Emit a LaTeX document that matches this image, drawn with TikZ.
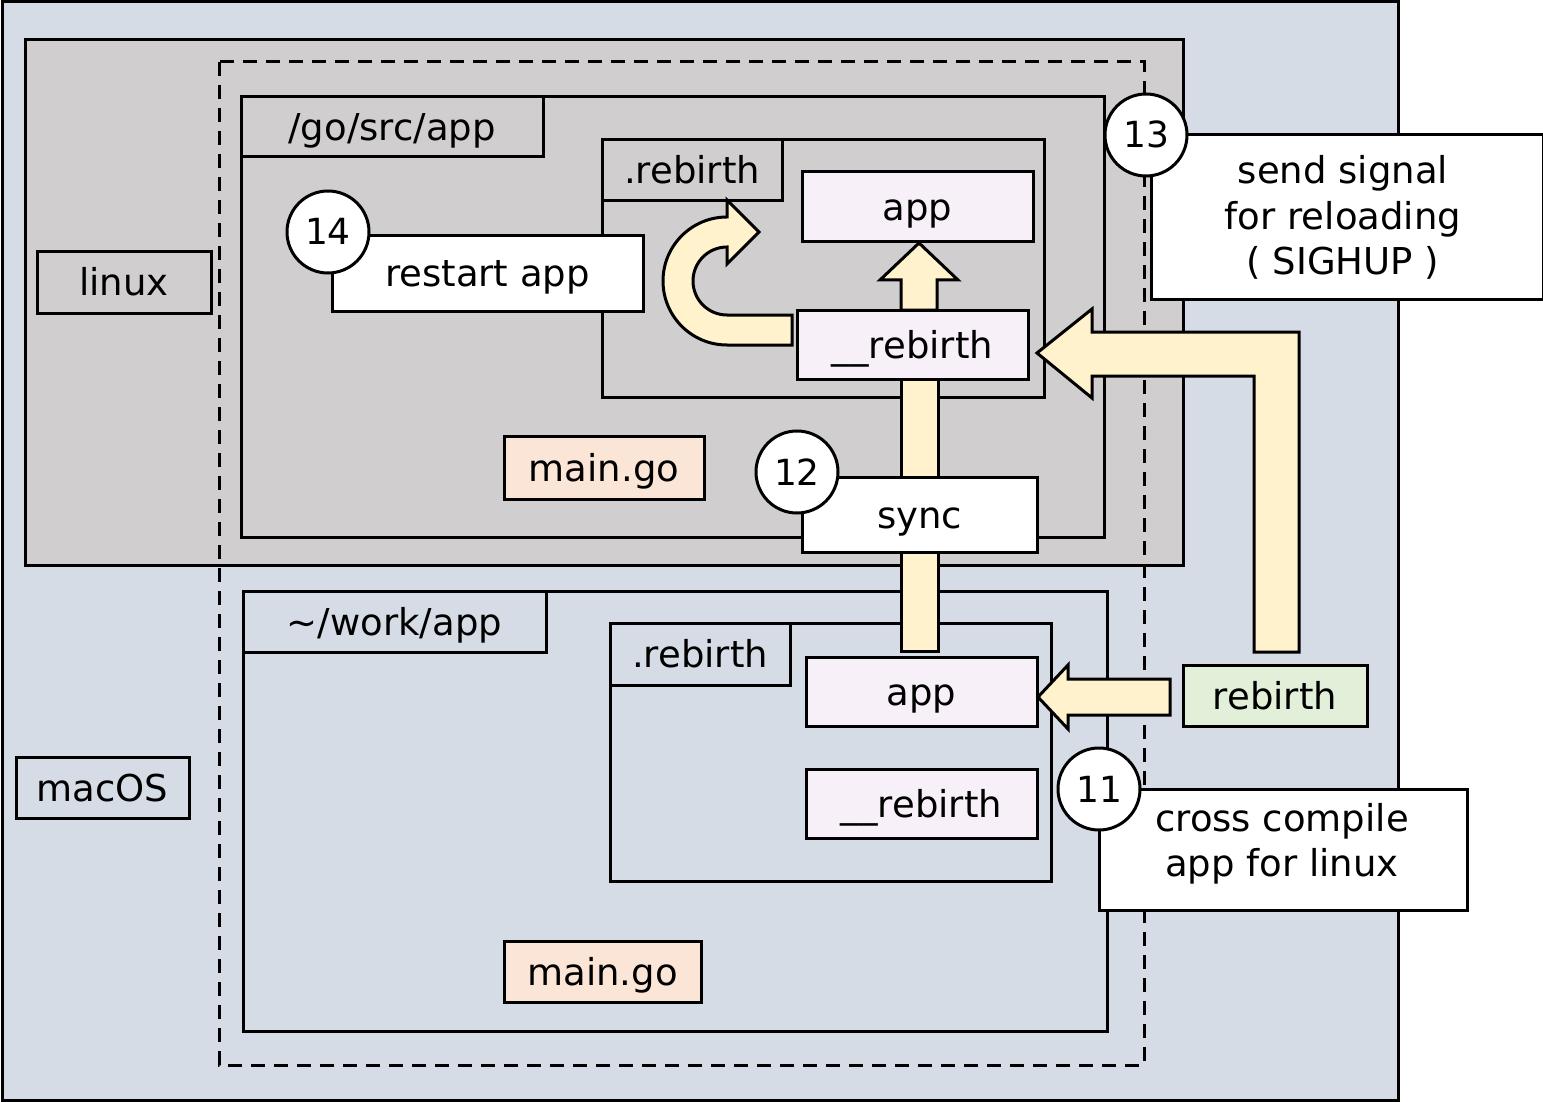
\documentclass[tikz,border=0pt]{standalone}
\usepackage{fontspec}
\setmainfont{DejaVu Sans}
\usetikzlibrary{calc}
\definecolor{macbg}{HTML}{D6DCE5}
\definecolor{linbg}{HTML}{D0CECE}
\definecolor{lav}{HTML}{F7F0F8}
\definecolor{peach}{HTML}{FBE5D6}
\definecolor{grn}{HTML}{E2F0D9}
\definecolor{yel}{HTML}{FFF2CC}
\begin{document}
\begin{tikzpicture}[x=1pt,y=-1pt,line width=3pt,
  bx/.style={draw=black,rectangle,inner sep=0pt,outer sep=0pt,anchor=north west,
    font=\fontsize{37}{45.5}\selectfont,text height=27pt,text depth=0pt},
  txt/.style={inner sep=0pt,outer sep=0pt,align=center,font=\fontsize{37}{45.5}\selectfont},
  stepnum/.style={draw=black,fill=white,circle,inner sep=0pt,outer sep=0pt,minimum size=82pt,
    font=\fontsize{36}{45.5}\selectfont,text height=26pt,text depth=0pt},
  fat/.style={draw=black,fill=yel,line width=3pt,line join=miter},
  dashbox/.style={draw=black,dash pattern=on 14pt off 9pt}]
\useasboundingbox (0,0) rectangle (1543,1102);
% outer environments
\node[bx,fill=macbg,minimum width=1396pt,minimum height=1098pt] (macos) at (2,2) {};
\node[bx,fill=linbg,minimum width=1158pt,minimum height=525pt] (linux) at (25,40) {};
% linux side
\node[bx,fill=linbg,minimum width=863pt,minimum height=440pt] (gosrc) at (241,97) {};
\node[bx,fill=linbg,minimum width=302pt,minimum height=60pt] (gosrctab) at (241,97) {/go/src/app};
\node[bx,fill=linbg,minimum width=442pt,minimum height=257pt] (rebU) at (602,140) {};
\node[bx,fill=linbg,minimum width=180pt,minimum height=61pt] (rebUtab) at (602,140) {.rebirth};
\node[bx,fill=lav,minimum width=231pt,minimum height=70pt] (uapp) at (802,172) {app};
\node[bx,fill=lav,minimum width=231pt,minimum height=69pt] (urb) at (797,310) {\_\_rebirth};
\node[bx,fill=peach,minimum width=200pt,minimum height=63pt] (umain) at (504,436) {main.go};
\node[bx,fill=linbg,minimum width=174pt,minimum height=61pt] (linuxlbl) at (37,252) {linux};
% macOS side
\node[bx,fill=macbg,minimum width=864pt,minimum height=440pt] (work) at (243,591) {};
\node[bx,fill=macbg,minimum width=303pt,minimum height=61pt] (worktab) at (243,591) {\textasciitilde/work/app};
\node[bx,fill=macbg,minimum width=441pt,minimum height=258pt] (rebL) at (610,623) {};
\node[bx,fill=macbg,minimum width=180pt,minimum height=62pt] (rebLtab) at (610,623) {.rebirth};
\node[bx,fill=lav,minimum width=231pt,minimum height=69pt] (lapp) at (806,657) {app};
\node[bx,fill=lav,minimum width=231pt,minimum height=69pt] (lrb) at (806,769) {\_\_rebirth};
\node[bx,fill=peach,minimum width=197pt,minimum height=61pt] (lmain) at (504,941) {main.go};
\node[bx,fill=macbg,minimum width=173pt,minimum height=61pt] (maclbl) at (16,757) {macOS};
\node[bx,fill=grn,minimum width=184pt,minimum height=61pt] (rebgrn) at (1183,665) {rebirth};
% dashed frame
\draw[dashbox] (219,62) rectangle (1144,1065);
% block arrows
\draw[fat] (901,379) rectangle (938,651);
\draw[fat] (901,310) -- (901,280) -- (880,280) -- (919,243) -- (958,280) -- (937,280) -- (937,310) -- cycle;
\draw[fat] (1254,652) -- (1254,376) -- (1092,376) -- (1092,398) -- (1037,353) -- (1092,309) -- (1092,332) -- (1299,332) -- (1299,652) -- cycle;
\draw[fat] (1170,679) -- (1068,679) -- (1068,665) -- (1038,697) -- (1068,729) -- (1068,715) -- (1170,715) -- cycle;
\draw[fat] (792,345) -- (727,345) arc[start angle=90,end angle=270,radius=64]
  -- (727,200) -- (759,232) -- (727,264) -- (727,247)
  arc[start angle=270,end angle=90,radius=34] -- (792,315) -- cycle;
% step boxes
\node[bx,fill=white,minimum width=311pt,minimum height=75pt] (restart) at (332,236) {restart app};
\node[bx,fill=white,minimum width=235pt,minimum height=75pt] (sync) at (802,477) {sync};
\node[bx,fill=white,minimum width=392pt,minimum height=165pt] (signal) at (1151,135) {};
\node[txt] (signaltxt) at (1343,217.5) {send signal\\for reloading\\( SIGHUP )};
\node[bx,fill=white,minimum width=368pt,minimum height=121pt] (cross) at (1099,789) {};
\node[txt] (crosstxt) at (1282,844) {cross compile\\app for linux};
% step numbers
\node[stepnum] (s14) at (328,232) {14};
\node[stepnum] (s12) at (797,472) {12};
\node[stepnum] (s13) at (1146,135) {13};
\node[stepnum] (s11) at (1099,789) {11};
\end{tikzpicture}
\end{document}
